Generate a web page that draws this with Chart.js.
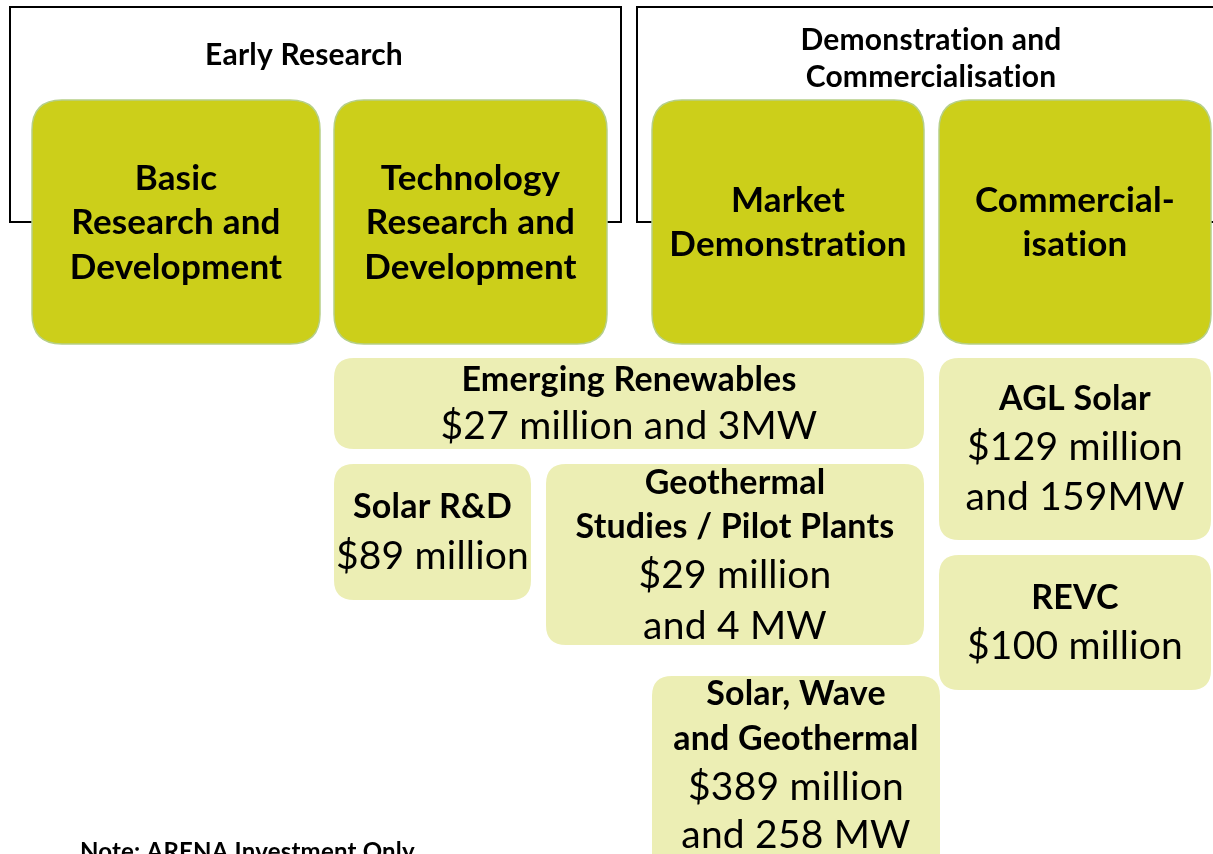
<!DOCTYPE html>
<html>
<head>
<meta charset="utf-8">
<script src="https://cdn.jsdelivr.net/npm/chart.js@4.4.1/dist/chart.umd.min.js"></script>
<style>
  html, body { margin: 0; padding: 0; background: #ffffff; }
  #wrap { width: 1213px; height: 854px; overflow: hidden; }
</style>
</head>
<body>
<div id="wrap"><canvas id="c" width="1213" height="854"></canvas></div>
<script>
// ---------- DATA ----------
const phases = ['Early Research', 'Demonstration and\nCommercialisation'];
const stages = ['Basic\nResearch and\nDevelopment', 'Technology\nResearch and\nDevelopment', 'Market\nDemonstration', 'Commercial-\nisation'];
const programs = ['Emerging Renewables', 'Solar R&D', 'Geothermal\nStudies / Pilot Plants', 'Solar, Wave\nand Geothermal', 'AGL Solar', 'REVC'];
const fundingMillion = [27, 89, 29, 389, 129, 100];
const capacityMW = [3, null, 4, 258, 159, null];
const amountLabels = ['$27 million and 3MW', '$89 million', '$29 million\nand 4 MW', '$389 million\nand 258 MW', '$129 million\nand 159MW', '$100 million'];
const note = 'Note: ARENA Investment Only';

// ---------- LAYOUT (diagram units = pixels of the 1213x854 page) ----------
const phaseLayout = [
  { frame: [10, 621, 7, 222], gaps: [[33, 606]], cx: 304, lineY: [55] },
  { frame: [637, 1222, 7, 222], gaps: [[652, 1211]], cx: 931, lineY: [40, 77] }
];
const stageLayout = [
  { box: [32, 320, 100, 344], lineY: [179, 223, 268] },
  { box: [334, 607, 100, 344], lineY: [179, 223, 268] },
  { box: [652, 924, 100, 344], lineY: [201, 245] },
  { box: [939, 1211, 100, 344], lineY: [201, 245] }
];
const programLayout = [
  { box: [334, 924, 358, 449], titleY: [380], amountY: [426] },
  { box: [334, 531, 464, 600], titleY: [507], amountY: [556] },
  { box: [546, 924, 464, 645], titleY: [483, 527], amountY: [575, 626] },
  { box: [652, 940, 676, 880], titleY: [694, 739], amountY: [787, 835] },
  { box: [939, 1211, 358, 540], titleY: [399], amountY: [447, 497] },
  { box: [939, 1211, 555, 690], titleY: [598], amountY: [646] }
];
const notePos = [80, 852];

const FONT = 'Lato, "Open Sans", sans-serif';
const style = {
  phaseFont: 'bold 30px ' + FONT,
  stageFont: 'bold 35px ' + FONT,
  titleFont: 'bold 34px ' + FONT,
  amountFont: '39px ' + FONT,
  noteFont: 'bold 24px ' + FONT,
  stageFill: '#CCCF1A', stageBorder: '#B6CF88', stageRadius: 30,
  progFill: '#ECEEB4', progRadius: 20,
  frameColor: '#000000'
};

function rr(ctx, x0, y0, x1, y1, r) {
  ctx.beginPath();
  ctx.moveTo(x0 + r, y0);
  ctx.lineTo(x1 - r, y0);
  ctx.quadraticCurveTo(x1, y0, x1, y0 + r);
  ctx.lineTo(x1, y1 - r);
  ctx.quadraticCurveTo(x1, y1, x1 - r, y1);
  ctx.lineTo(x0 + r, y1);
  ctx.quadraticCurveTo(x0, y1, x0, y1 - r);
  ctx.lineTo(x0, y0 + r);
  ctx.quadraticCurveTo(x0, y0, x0 + r, y0);
  ctx.closePath();
}

const diagramPlugin = {
  id: 'diagram',
  afterDraw(chart) {
    const ctx = chart.ctx;
    const X = v => chart.scales.x.getPixelForValue(v);
    const Y = v => chart.scales.y.getPixelForValue(v);
    ctx.save();
    ctx.textAlign = 'center';
    ctx.textBaseline = 'middle';
    if ('letterSpacing' in ctx) ctx.letterSpacing = '0.2px';
    ctx.fillStyle = '#000';

    // phase frames
    phases.forEach((label, i) => {
      const L = phaseLayout[i];
      const [x0, x1, y0, y1] = L.frame;
      ctx.strokeStyle = style.frameColor;
      ctx.lineWidth = 2;
      ctx.beginPath();
      ctx.moveTo(X(L.gaps[0][0]), Y(y1));
      ctx.lineTo(X(x0), Y(y1));
      ctx.lineTo(X(x0), Y(y0));
      ctx.lineTo(X(x1), Y(y0));
      ctx.lineTo(X(x1), Y(y1));
      ctx.lineTo(X(L.gaps[0][1]), Y(y1));
      ctx.stroke();
      ctx.font = style.phaseFont;
      ctx.fillStyle = '#000';
      label.split('\n').forEach((t, k) => ctx.fillText(t, X(L.cx), Y(L.lineY[k])));
    });

    // stage boxes
    stages.forEach((label, i) => {
      const [x0, x1, y0, y1] = stageLayout[i].box;
      rr(ctx, X(x0), Y(y0), X(x1), Y(y1), style.stageRadius);
      ctx.fillStyle = style.stageFill;
      ctx.fill();
      ctx.strokeStyle = style.stageBorder;
      ctx.lineWidth = 1.5;
      ctx.stroke();
      ctx.fillStyle = '#000';
      ctx.font = style.stageFont;
      label.split('\n').forEach((t, k) => ctx.fillText(t, X((x0 + x1) / 2), Y(stageLayout[i].lineY[k])));
    });

    // program boxes
    programs.forEach((label, i) => {
      const L = programLayout[i];
      const [x0, x1, y0, y1] = L.box;
      rr(ctx, X(x0), Y(y0), X(x1), Y(y1), style.progRadius);
      ctx.fillStyle = style.progFill;
      ctx.fill();
      ctx.fillStyle = '#000';
      const cx = X((x0 + x1) / 2);
      ctx.font = style.titleFont;
      label.split('\n').forEach((t, k) => ctx.fillText(t, cx, Y(L.titleY[k])));
      ctx.font = style.amountFont;
      amountLabels[i].split('\n').forEach((t, k) => ctx.fillText(t, cx, Y(L.amountY[k])));
    });

    // note
    ctx.textAlign = 'left';
    ctx.font = style.noteFont;
    ctx.fillText(note, X(notePos[0]), Y(notePos[1]));
    ctx.restore();
  }
};

new Chart(document.getElementById('c'), {
  type: 'scatter',
  data: { datasets: [{ label: 'ARENA investment ($m)', data: fundingMillion.map((v, i) => ({ x: (programLayout[i].box[0] + programLayout[i].box[1]) / 2, y: (programLayout[i].box[2] + programLayout[i].box[3]) / 2 })), pointRadius: 0, showLine: false }] },
  options: {
    responsive: false,
    animation: false,
    devicePixelRatio: 1,
    layout: { padding: 0 },
    plugins: { legend: { display: false }, tooltip: { enabled: false } },
    scales: {
      x: { type: 'linear', min: 0, max: 1213, display: false },
      y: { type: 'linear', min: 0, max: 854, reverse: true, display: false }
    }
  },
  plugins: [diagramPlugin]
});
</script>
</body>
</html>
